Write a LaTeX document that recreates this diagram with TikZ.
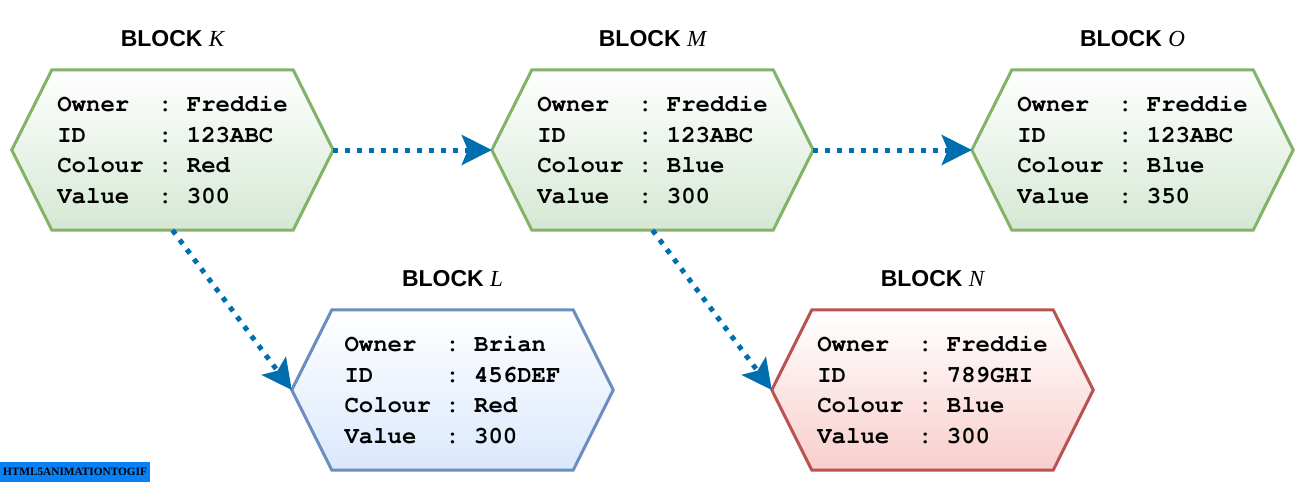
\documentclass[tikz,border=0pt]{standalone}
\usepackage{fontspec}
\setmainfont{Liberation Sans}
\newfontfamily\blockmono{TeX Gyre Cursor}
\newfontfamily\blockserif{Liberation Serif}
\usetikzlibrary{arrows.meta,backgrounds}
\definecolor{gstroke}{HTML}{82B366}
\definecolor{gfill}{HTML}{D5E8D4}
\definecolor{bstroke}{HTML}{6C8EBF}
\definecolor{bfill}{HTML}{DAE8FC}
\definecolor{rstroke}{HTML}{B85450}
\definecolor{rfill}{HTML}{F8CECC}
\definecolor{arrowblue}{HTML}{006EAF}
\definecolor{wmblue}{HTML}{0A80F5}
\newcommand\hexpath[2]{\path[#2] (#1.west) -- ([xshift=40pt]#1.north west) -- ([xshift=-40pt]#1.north east) -- (#1.east) -- ([xshift=-40pt]#1.south east) -- ([xshift=40pt]#1.south west) -- cycle;}
\begin{document}
\begin{tikzpicture}[x=1pt,y=-1pt,
  body/.style={inner sep=0pt, minimum width=321pt, minimum height=160pt, align=left,
    font=\blockmono\bfseries\fontsize{24}{30.5}\selectfont},
  title/.style={anchor=base, inner sep=0pt, font=\bfseries\fontsize{23}{27}\selectfont},
  conn/.style={draw=arrowblue, line width=5pt, dash pattern=on 5pt off 7pt,
    -{Stealth[length=30pt,width=30pt,inset=6pt]}},
  hexgreen/.style={draw=gstroke, line width=3pt, top color=white, bottom color=gfill},
  hexblue/.style={draw=bstroke, line width=3pt, top color=white, bottom color=bfill},
  hexred/.style={draw=rstroke, line width=3pt, top color=white, bottom color=rfill},
  wm/.style={fill=wmblue, inner sep=0pt, minimum width=150pt, minimum height=20pt,
    font=\blockserif\bfseries\fontsize{11.3}{12}\selectfont}
]
\useasboundingbox (0,0) rectangle (1304,482);

\node[body] (K) at (172.5,150) {Owner~~:~Freddie\\ID~~~~~:~123ABC\\Colour~:~Red\\Value~~:~300};
\node[body] (M) at (652.5,150) {Owner~~:~Freddie\\ID~~~~~:~123ABC\\Colour~:~Blue\\Value~~:~300};
\node[body] (O) at (1132.5,150) {Owner~~:~Freddie\\ID~~~~~:~123ABC\\Colour~:~Blue\\Value~~:~350};
\node[body] (L) at (452.5,390) {Owner~~:~Brian\\ID~~~~~:~456DEF\\Colour~:~Red\\Value~~:~300};
\node[body] (N) at (932.5,390) {Owner~~:~Freddie\\ID~~~~~:~789GHI\\Colour~:~Blue\\Value~~:~300};

\begin{scope}[on background layer]
  \hexpath{K}{hexgreen}
  \hexpath{M}{hexgreen}
  \hexpath{O}{hexgreen}
  \hexpath{L}{hexblue}
  \hexpath{N}{hexred}
\end{scope}

\node[title] (tK) at ([yshift=23pt]K.north) {BLOCK {\blockserif\mdseries\itshape K}};
\node[title] (tM) at ([yshift=23pt]M.north) {BLOCK {\blockserif\mdseries\itshape M}};
\node[title] (tO) at ([yshift=23pt]O.north) {BLOCK {\blockserif\mdseries\itshape O}};
\node[title] (tL) at ([yshift=23pt]L.north) {BLOCK {\blockserif\mdseries\itshape L}};
\node[title] (tN) at ([yshift=23pt]N.north) {BLOCK {\blockserif\mdseries\itshape N}};

\draw[conn] (K.east) -- (M.west);
\draw[conn] (M.east) -- (O.west);
\draw[conn] (K.south) -- (L.west);
\draw[conn] (M.south) -- (N.west);

\node[wm] (wm) at (75,472) {HTML5ANIMATIONTOGIF};
\end{tikzpicture}
\end{document}
